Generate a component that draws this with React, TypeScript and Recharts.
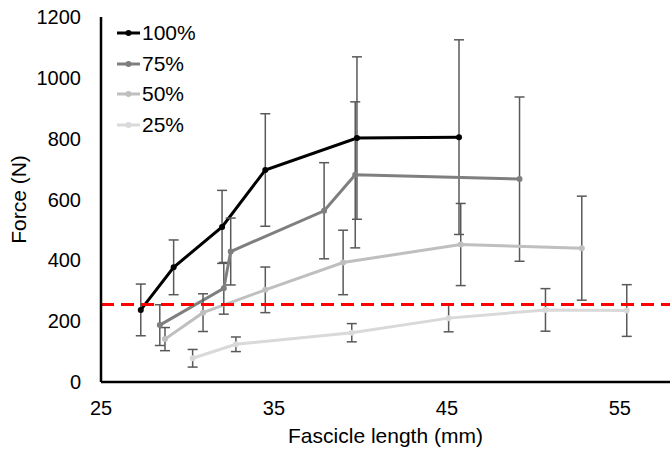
import {
  LineChart,
  Line,
  XAxis,
  YAxis,
  ErrorBar,
  Legend,
  ReferenceLine,
} from "recharts"

// fascicle length (mm), force (N), SD (N)
const len100 = [27.3, 29.2, 32.0, 34.5, 39.8, 45.7]
const force100 = [237, 377, 510, 697, 802, 805]
const sd100 = [85, 90, 120, 185, 267, 320]

const len75 = [28.4, 32.1, 32.5, 37.9, 39.7, 49.2]
const force75 = [187, 308, 429, 563, 681, 667]
const sd75 = [67, 85, 110, 158, 240, 270]

const len50 = [28.7, 30.9, 34.5, 39.0, 45.8, 52.8]
const force50 = [141, 228, 303, 393, 452, 440]
const sd50 = [38, 62, 75, 106, 135, 171]

const len25 = [30.3, 32.8, 39.5, 45.1, 50.7, 55.4]
const force25 = [78, 124, 162, 210, 237, 235]
const sd25 = [29, 24, 30, 45, 70, 85]

const threshold = 255

const xTicks = [25, 35, 45, 55]
const yTicks = [0, 200, 400, 600, 800, 1000, 1200]

const toRows = (xs: number[], ys: number[], sds: number[]) =>
  xs.map((x, i) => ({ x, y: ys[i], sd: sds[i] }))

const series = [
  { name: "100%", color: "#000000", data: toRows(len100, force100, sd100) },
  { name: "75%", color: "#7f7f7f", data: toRows(len75, force75, sd75) },
  { name: "50%", color: "#bfbfbf", data: toRows(len50, force50, sd50) },
  { name: "25%", color: "#d9d9d9", data: toRows(len25, force25, sd25) },
]

const font = "'Liberation Sans', Arial, sans-serif"

function LegendBox() {
  return (
    <div style={{ fontFamily: font, fontSize: 21, color: "#000", lineHeight: "30.5px" }}>
      {series.map((s) => (
        <div key={s.name} style={{ display: "flex", alignItems: "center", height: 30.5 }}>
          <svg width={26} height={10}>
            <line x1={1} y1={5} x2={24} y2={5} stroke={s.color} strokeWidth={3} />
            <circle cx={12.5} cy={5} r={3} fill={s.color} />
          </svg>
          <span>{s.name}</span>
        </div>
      ))}
    </div>
  )
}

export default function App() {
  return (
    <div style={{ position: "absolute", left: 0, top: 0, background: "#fff" }}>
      <LineChart
        width={670}
        height={450}
        margin={{ top: 17, right: 0, left: 0, bottom: 0 }}
        style={{ fontFamily: font }}
      >
        <XAxis
          type="number"
          dataKey="x"
          domain={[25, 57.9]}
          ticks={xTicks}
          allowDataOverflow
          height={68}
          axisLine={{ stroke: "#000", strokeWidth: 2.5 }}
          tickLine={false}
          tickSize={0}
          tickMargin={19}
          tick={{ fontSize: 20, fill: "#000" }}
          label={{
            value: "Fascicle length (mm)",
            position: "insideBottom",
            offset: 7,
            style: { fontSize: 21, fill: "#000" },
          }}
        />
        <YAxis
          type="number"
          domain={[0, 1200]}
          ticks={yTicks}
          width={101}
          axisLine={{ stroke: "#000", strokeWidth: 2.5 }}
          tickLine={false}
          tickSize={0}
          tickMargin={20}
          tick={{ fontSize: 20, fill: "#000" }}
          label={{
            value: "Force (N)",
            angle: -90,
            position: "insideLeft",
            offset: 19,
            style: { fontSize: 21, fill: "#000", textAnchor: "middle" },
          }}
        />
        <Legend
          layout="horizontal"
          verticalAlign="middle"
          align="center"
          content={() => <LegendBox />}
          wrapperStyle={{ left: 116, top: 18, width: "auto", height: "auto" }}
        />
        {series.map((s) => (
          <Line
            key={s.name}
            data={s.data}
            dataKey="y"
            name={s.name}
            stroke={s.color}
            strokeWidth={3}
            dot={{ r: 3, fill: s.color, stroke: s.color, strokeWidth: 0 }}
            activeDot={false}
            isAnimationActive={false}
          >
            <ErrorBar dataKey="sd" direction="y" width={5} stroke="#595959" strokeWidth={1.5} />
          </Line>
        ))}
        <ReferenceLine
          y={threshold}
          stroke="#ff0000"
          strokeWidth={3}
          strokeDasharray="13 7"
        />
      </LineChart>
    </div>
  )
}
